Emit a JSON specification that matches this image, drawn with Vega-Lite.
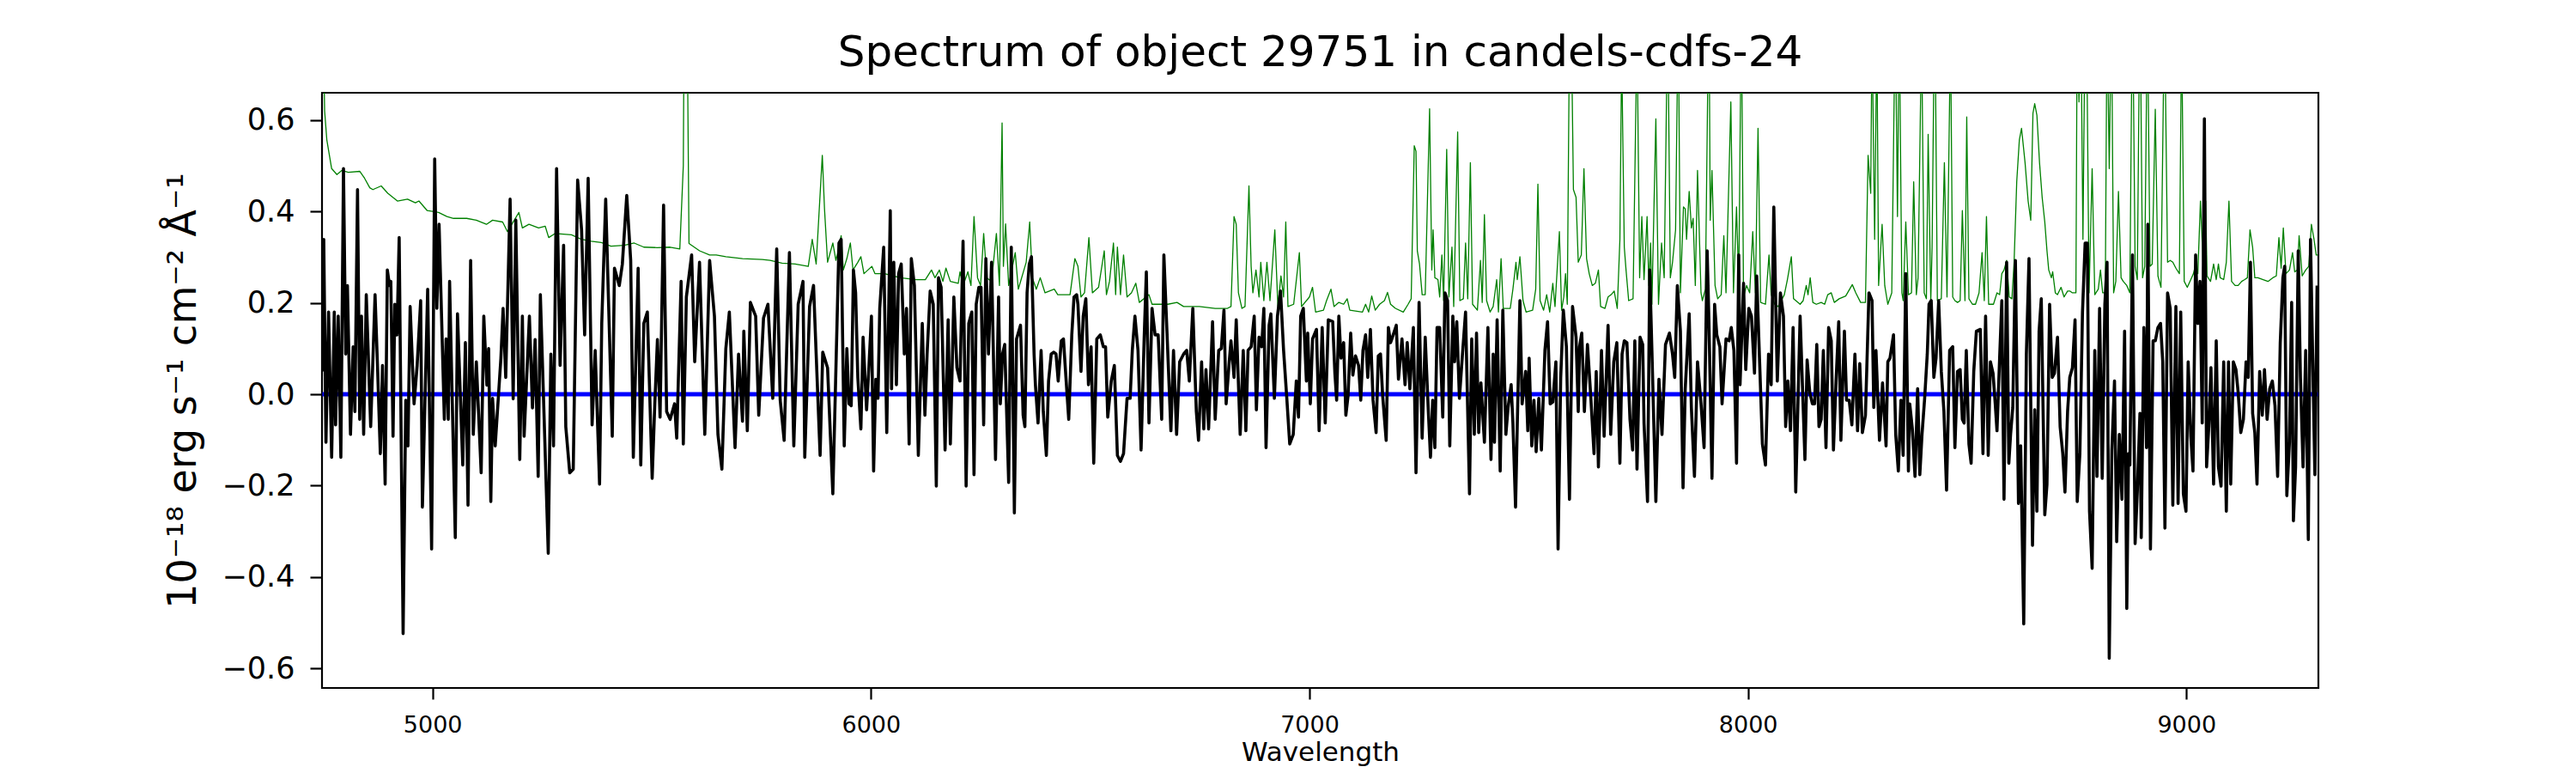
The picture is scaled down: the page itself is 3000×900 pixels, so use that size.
{
"$schema":"https://vega.github.io/schema/vega-lite/v6.json",
"width":2325,"height":693,
"autosize":{"type":"none"},
"padding":{"left":375,"top":108,"right":300,"bottom":99},
"background":"white",
"title":{"text":"Spectrum of object 29751 in candels-cdfs-24","font":"DejaVu Sans","fontSize":50,"fontWeight":"normal","color":"black","anchor":"middle","frame":"group","offset":-19,"baseline":"alphabetic"},
"datasets":{
"noise":[
{"wl":4749,"value":0.9},{"wl":4754,"value":0.62},{"wl":4759,"value":0.557},{"wl":4770,"value":0.494},{"wl":4782,"value":0.481},{"wl":4793,"value":0.49},{"wl":4808,"value":0.486},{"wl":4834,"value":0.488},{"wl":4845,"value":0.473},{"wl":4857,"value":0.452},{"wl":4864,"value":0.448},{"wl":4883,"value":0.456},{"wl":4898,"value":0.44},{"wl":4920,"value":0.423},{"wl":4943,"value":0.427},{"wl":4961,"value":0.419},{"wl":4969,"value":0.423},{"wl":4988,"value":0.402},{"wl":5014,"value":0.398},{"wl":5033,"value":0.389},{"wl":5048,"value":0.385},{"wl":5078,"value":0.385},{"wl":5100,"value":0.381},{"wl":5123,"value":0.372},{"wl":5137,"value":0.381},{"wl":5160,"value":0.377},{"wl":5171,"value":0.356},{"wl":5197,"value":0.398},{"wl":5205,"value":0.364},{"wl":5220,"value":0.372},{"wl":5242,"value":0.364},{"wl":5257,"value":0.368},{"wl":5265,"value":0.343},{"wl":5280,"value":0.352},{"wl":5317,"value":0.349},{"wl":5340,"value":0.339},{"wl":5362,"value":0.335},{"wl":5385,"value":0.332},{"wl":5407,"value":0.324},{"wl":5437,"value":0.326},{"wl":5460,"value":0.331},{"wl":5482,"value":0.322},{"wl":5512,"value":0.321},{"wl":5542,"value":0.322},{"wl":5564,"value":0.318},{"wl":5572,"value":0.5},{"wl":5576,"value":1.2},{"wl":5581,"value":0.8},{"wl":5585,"value":0.33},{"wl":5609,"value":0.314},{"wl":5632,"value":0.305},{"wl":5647,"value":0.305},{"wl":5669,"value":0.301},{"wl":5707,"value":0.297},{"wl":5752,"value":0.295},{"wl":5770,"value":0.293},{"wl":5797,"value":0.287},{"wl":5827,"value":0.285},{"wl":5857,"value":0.28},{"wl":5866,"value":0.339},{"wl":5875,"value":0.285},{"wl":5889,"value":0.523},{"wl":5894,"value":0.406},{"wl":5901,"value":0.289},{"wl":5913,"value":0.331},{"wl":5920,"value":0.293},
{"wl":5923,"value":0.305},{"wl":5932,"value":0.347},{"wl":5937,"value":0.272},{"wl":5945,"value":0.297},{"wl":5953,"value":0.331},{"wl":5959,"value":0.272},{"wl":5970,"value":0.289},{"wl":5977,"value":0.301},{"wl":5984,"value":0.264},{"wl":6002,"value":0.28},{"wl":6009,"value":0.264},{"wl":6031,"value":0.264},{"wl":6067,"value":0.255},{"wl":6103,"value":0.251},{"wl":6124,"value":0.251},{"wl":6138,"value":0.272},{"wl":6146,"value":0.255},{"wl":6156,"value":0.272},{"wl":6164,"value":0.247},{"wl":6171,"value":0.276},{"wl":6181,"value":0.247},{"wl":6199,"value":0.243},{"wl":6203,"value":0.268},{"wl":6210,"value":0.238},{"wl":6221,"value":0.268},{"wl":6228,"value":0.238},{"wl":6235,"value":0.389},{"wl":6243,"value":0.255},{"wl":6250,"value":0.238},{"wl":6257,"value":0.352},{"wl":6264,"value":0.255},{"wl":6275,"value":0.247},{"wl":6286,"value":0.352},{"wl":6293,"value":0.238},{"wl":6299,"value":0.594},{"wl":6302,"value":0.28},{"wl":6307,"value":0.373},{"wl":6314,"value":0.238},{"wl":6329,"value":0.31},{"wl":6336,"value":0.23},{"wl":6354,"value":0.289},{"wl":6362,"value":0.377},{"wl":6368,"value":0.255},{"wl":6377,"value":0.23},{"wl":6386,"value":0.255},{"wl":6397,"value":0.222},{"wl":6418,"value":0.23},{"wl":6426,"value":0.218},{"wl":6454,"value":0.218},{"wl":6465,"value":0.297},{"wl":6472,"value":0.28},{"wl":6479,"value":0.213},{"wl":6487,"value":0.222},{"wl":6497,"value":0.343},{"wl":6505,"value":0.222},{"wl":6519,"value":0.234},{"wl":6532,"value":0.314},{"wl":6537,"value":0.218},{"wl":6544,"value":0.247},{"wl":6553,"value":0.331},{"wl":6558,"value":0.218},{"wl":6562,"value":0.322},{"wl":6569,"value":0.218},{"wl":6576,"value":0.305},{"wl":6584,"value":0.213},{"wl":6594,"value":0.222},{"wl":6604,"value":0.243},{"wl":6612,"value":0.201},{"wl":6634,"value":0.218},{"wl":6641,"value":0.197},{"wl":6677,"value":0.197},{"wl":6698,"value":0.201},{"wl":6713,"value":0.192},{"wl":6749,"value":0.192},{"wl":6785,"value":0.188},{"wl":6813,"value":0.188},{"wl":6821,"value":0.192},{"wl":6828,"value":0.389},{"wl":6833,"value":0.372},{"wl":6838,"value":0.222},{"wl":6846,"value":0.188},{"wl":6853,"value":0.192},{"wl":6862,"value":0.456},{"wl":6867,"value":0.28},{"wl":6871,"value":0.222},{"wl":6878,"value":0.272},{"wl":6885,"value":0.213},{"wl":6889,"value":0.289},{"wl":6896,"value":0.205},{"wl":6903,"value":0.289},{"wl":6910,"value":0.205},{"wl":6921,"value":0.36},{"wl":6928,"value":0.192},{"wl":6935,"value":0.259},{"wl":6941,"value":0.213},{"wl":6946,"value":0.377},{"wl":6951,"value":0.192},{"wl":6964,"value":0.197},{"wl":6977,"value":0.31},{"wl":6982,"value":0.192},{"wl":7000,"value":0.213},{"wl":7007,"value":0.234},{"wl":7014,"value":0.18},{"wl":7032,"value":0.184},{"wl":7039,"value":0.205},{"wl":7049,"value":0.23},
{"wl":7056,"value":0.192},{"wl":7067,"value":0.201},{"wl":7078,"value":0.197},{"wl":7086,"value":0.209},{"wl":7092,"value":0.184},{"wl":7121,"value":0.18},{"wl":7128,"value":0.197},{"wl":7135,"value":0.18},{"wl":7142,"value":0.215},{"wl":7150,"value":0.184},{"wl":7160,"value":0.197},{"wl":7171,"value":0.205},{"wl":7178,"value":0.223},{"wl":7185,"value":0.197},{"wl":7196,"value":0.188},{"wl":7214,"value":0.18},{"wl":7225,"value":0.197},{"wl":7232,"value":0.209},{"wl":7239,"value":0.544},{"wl":7243,"value":0.532},{"wl":7246,"value":0.314},{"wl":7251,"value":0.285},{"wl":7257,"value":0.218},{"wl":7264,"value":0.218},{"wl":7274,"value":0.625},{"wl":7279,"value":0.272},{"wl":7282,"value":0.36},{"wl":7286,"value":0.255},{"wl":7293,"value":0.251},{"wl":7297,"value":0.213},{"wl":7302,"value":0.305},{"wl":7306,"value":0.205},{"wl":7313,"value":0.536},{"wl":7318,"value":0.213},{"wl":7325,"value":0.322},{"wl":7329,"value":0.192},{"wl":7338,"value":0.574},{"wl":7343,"value":0.205},{"wl":7351,"value":0.209},{"wl":7356,"value":0.331},{"wl":7361,"value":0.209},{"wl":7367,"value":0.507},{"wl":7372,"value":0.197},{"wl":7383,"value":0.184},{"wl":7390,"value":0.293},{"wl":7394,"value":0.201},{"wl":7399,"value":0.393},{"wl":7404,"value":0.205},{"wl":7412,"value":0.18},{"wl":7419,"value":0.192},{"wl":7427,"value":0.251},{"wl":7431,"value":0.18},{"wl":7437,"value":0.297},{"wl":7442,"value":0.188},{"wl":7458,"value":0.188},{"wl":7464,"value":0.23},{"wl":7471,"value":0.289},{"wl":7474,"value":0.251},{"wl":7480,"value":0.301},{"wl":7487,"value":0.205},{"wl":7494,"value":0.18},{"wl":7509,"value":0.184},{"wl":7516,"value":0.23},{"wl":7521,"value":0.46},{"wl":7526,"value":0.205},{"wl":7534,"value":0.184},{"wl":7541,"value":0.218},{"wl":7548,"value":0.18},{"wl":7555,"value":0.243},{"wl":7560,"value":0.192},{"wl":7570,"value":0.356},{"wl":7575,"value":0.184},{"wl":7580,"value":0.213},{"wl":7584,"value":0.264},{"wl":7588,"value":0.197},{"wl":7593,"value":0.8},{"wl":7598,"value":0.75},{"wl":7602,"value":0.448},{"wl":7608,"value":0.431},{"wl":7613,"value":0.289},{"wl":7620,"value":0.305},{"wl":7626,"value":0.494},{"wl":7632,"value":0.297},{"wl":7638,"value":0.264},{"wl":7645,"value":0.238},{"wl":7652,"value":0.243},{"wl":7659,"value":0.272},{"wl":7664,"value":0.192},{"wl":7674,"value":0.188},{"wl":7681,"value":0.213},{"wl":7688,"value":0.218},{"wl":7695,"value":0.226},{"wl":7702,"value":0.188},{"wl":7708,"value":0.339},{"wl":7712,"value":0.75},{"wl":7718,"value":0.322},{"wl":7722,"value":0.272},{"wl":7728,"value":0.205},{"wl":7738,"value":0.209},{"wl":7747,"value":0.8},{"wl":7753,"value":0.255},{"wl":7758,"value":0.389},{"wl":7763,"value":0.251},{"wl":7770,"value":0.389},{"wl":7774,"value":0.238},{"wl":7778,"value":0.331},{"wl":7781,"value":0.197},{"wl":7790,"value":0.603},{"wl":7796,"value":0.197},{"wl":7803,"value":0.331},{"wl":7809,"value":0.255},{"wl":7817,"value":0.85},{"wl":7823,"value":0.255},{"wl":7828,"value":0.289},{"wl":7835,"value":0.36},{"wl":7841,"value":0.85},{"wl":7846,"value":0.222},{"wl":7853,"value":0.41},{"wl":7857,"value":0.406},{"wl":7860,"value":0.339},{"wl":7866,"value":0.444},{"wl":7871,"value":0.364},{"wl":7875,"value":0.385},{"wl":7880,"value":0.238},{"wl":7885,"value":0.49},{"wl":7893,"value":0.222},{"wl":7896,"value":0.205},{"wl":7903,"value":0.23},{"wl":7911,"value":0.9},{"wl":7914,"value":0.381},{"wl":7918,"value":0.49},{"wl":7925,"value":0.238},{"wl":7931,"value":0.209},{"wl":7939,"value":0.218},{"wl":7945,"value":0.347},{"wl":7950,"value":0.222},{"wl":7961,"value":0.64},{"wl":7967,"value":0.222},{"wl":7974,"value":0.41},{"wl":7979,"value":0.238},{"wl":7985,"value":0.85},{"wl":7990,"value":0.213},{"wl":7997,"value":0.238},{"wl":8004,"value":0.222},{"wl":8011,"value":0.356},{"wl":8017,"value":0.222},{"wl":8023,"value":0.582},{"wl":8029,"value":0.201},{"wl":8040,"value":0.197},{"wl":8048,"value":0.305},{"wl":8053,"value":0.218},{"wl":8061,"value":0.197},{"wl":8069,"value":0.192},{"wl":8083,"value":0.218},{"wl":8090,"value":0.251},{"wl":8099,"value":0.301},{"wl":8104,"value":0.209},{"wl":8119,"value":0.197},
{"wl":8126,"value":0.205},{"wl":8133,"value":0.238},{"wl":8137,"value":0.218},{"wl":8142,"value":0.255},{"wl":8148,"value":0.201},{"wl":8156,"value":0.197},{"wl":8167,"value":0.201},{"wl":8175,"value":0.197},{"wl":8182,"value":0.218},{"wl":8190,"value":0.222},{"wl":8197,"value":0.201},{"wl":8208,"value":0.209},{"wl":8223,"value":0.215},{"wl":8238,"value":0.24},{"wl":8246,"value":0.222},{"wl":8257,"value":0.201},{"wl":8268,"value":0.201},{"wl":8274,"value":0.523},{"wl":8280,"value":0.44},{"wl":8283,"value":0.8},{"wl":8289,"value":0.339},{"wl":8294,"value":0.8},{"wl":8298,"value":0.238},{"wl":8306,"value":0.372},{"wl":8312,"value":0.238},{"wl":8319,"value":0.197},{"wl":8328,"value":0.222},{"wl":8336,"value":0.85},{"wl":8341,"value":0.389},{"wl":8345,"value":0.85},{"wl":8351,"value":0.222},{"wl":8354,"value":0.205},{"wl":8360,"value":0.377},{"wl":8366,"value":0.218},{"wl":8373,"value":0.222},{"wl":8378,"value":0.465},{"wl":8384,"value":0.218},{"wl":8388,"value":0.255},{"wl":8396,"value":0.8},{"wl":8402,"value":0.222},{"wl":8407,"value":0.209},{"wl":8411,"value":0.569},{"wl":8417,"value":0.205},{"wl":8420,"value":0.322},{"wl":8426,"value":0.9},{"wl":8432,"value":0.205},{"wl":8441,"value":0.209},{"wl":8448,"value":0.507},{"wl":8454,"value":0.213},{"wl":8462,"value":0.8},{"wl":8467,"value":0.213},{"wl":8472,"value":0.205},{"wl":8478,"value":0.201},{"wl":8484,"value":0.205},{"wl":8489,"value":0.402},{"wl":8495,"value":0.205},{"wl":8499,"value":0.607},{"wl":8504,"value":0.209},{"wl":8512,"value":0.197},{"wl":8519,"value":0.197},{"wl":8527,"value":0.222},{"wl":8534,"value":0.31},{"wl":8539,"value":0.205},{"wl":8544,"value":0.389},{"wl":8549,"value":0.197},{"wl":8560,"value":0.197},{"wl":8568,"value":0.222},{"wl":8574,"value":0.218},{"wl":8579,"value":0.264},{"wl":8584,"value":0.272},{"wl":8590,"value":0.293},{"wl":8596,"value":0.213},{"wl":8602,"value":0.209},{"wl":8607,"value":0.289},{"wl":8613,"value":0.465},{"wl":8619,"value":0.557},{"wl":8624,"value":0.582},{"wl":8632,"value":0.507},{"wl":8639,"value":0.423},{"wl":8645,"value":0.381},{"wl":8650,"value":0.615},{"wl":8654,"value":0.636},{"wl":8659,"value":0.611},{"wl":8665,"value":0.507},{"wl":8671,"value":0.431},{"wl":8677,"value":0.377},{"wl":8682,"value":0.314},{"wl":8686,"value":0.272},{"wl":8692,"value":0.255},{"wl":8695,"value":0.268},{"wl":8701,"value":0.222},{"wl":8706,"value":0.218},{"wl":8714,"value":0.234},{"wl":8721,"value":0.213},{"wl":8729,"value":0.226},{"wl":8734,"value":0.226},{"wl":8740,"value":0.222},{"wl":8748,"value":0.222},{"wl":8751,"value":0.85},{"wl":8755,"value":0.64},{"wl":8759,"value":0.85},{"wl":8764,"value":0.339},{"wl":8769,"value":0.85},{"wl":8772,"value":0.85},{"wl":8778,"value":0.222},{"wl":8785,"value":0.494},{"wl":8791,"value":0.218},{"wl":8799,"value":0.23},{"wl":8804,"value":0.272},{"wl":8809,"value":0.222},{"wl":8815,"value":0.222},{"wl":8819,"value":0.85},{"wl":8824,"value":0.494},{"wl":8829,"value":0.85},{"wl":8834,"value":0.222},{"wl":8839,"value":0.247},{"wl":8845,"value":0.444},{"wl":8851,"value":0.255},{"wl":8856,"value":0.247},{"wl":8864,"value":0.238},{"wl":8871,"value":0.222},{"wl":8877,"value":0.9},{"wl":8883,"value":0.28},{"wl":8888,"value":0.251},{"wl":8894,"value":0.9},{"wl":8900,"value":0.255},{"wl":8905,"value":0.28},{"wl":8911,"value":0.85},{"wl":8917,"value":0.28},{"wl":8922,"value":0.285},{"wl":8929,"value":0.624},{"wl":8935,"value":0.259},{"wl":8942,"value":0.234},{"wl":8950,"value":0.85},{"wl":8957,"value":0.289},{"wl":8963,"value":0.293},{"wl":8969,"value":0.289},{"wl":8976,"value":0.276},{"wl":8984,"value":0.264},{"wl":8989,"value":0.8},{"wl":8995,"value":0.247},{"wl":9002,"value":0.234},{"wl":9010,"value":0.251},{"wl":9016,"value":0.264},{"wl":9021,"value":0.285},{"wl":9026,"value":0.264},{"wl":9032,"value":0.423},{"wl":9038,"value":0.285},{"wl":9044,"value":0.423},{"wl":9047,"value":0.259},{"wl":9055,"value":0.247},{"wl":9062,"value":0.285},{"wl":9068,"value":0.251},{"wl":9073,"value":0.285},{"wl":9077,"value":0.255},{"wl":9085,"value":0.251},{"wl":9091,"value":0.289},{"wl":9097,"value":0.423},{"wl":9103,"value":0.247},{"wl":9111,"value":0.238},{"wl":9118,"value":0.238},{"wl":9126,"value":0.247},{"wl":9133,"value":0.251},{"wl":9139,"value":0.255},{"wl":9145,"value":0.36},{"wl":9151,"value":0.322},{"wl":9156,"value":0.255},{"wl":9163,"value":0.255},{"wl":9175,"value":0.251},{"wl":9186,"value":0.247},{"wl":9197,"value":0.255},{"wl":9205,"value":0.259},{"wl":9211,"value":0.343},{"wl":9216,"value":0.276},{"wl":9221,"value":0.364},{"wl":9227,"value":0.264},{"wl":9235,"value":0.272},{"wl":9242,"value":0.31},{"wl":9247,"value":0.268},{"wl":9253,"value":0.272},{"wl":9257,"value":0.347},{"wl":9264,"value":0.259},{"wl":9272,"value":0.272},{"wl":9279,"value":0.28},{"wl":9285,"value":0.372},{"wl":9291,"value":0.339},{"wl":9296,"value":0.305},{"wl":9300,"value":0.305}
],
"zero":[{"wl":4749,"value":0},{"wl":9300,"value":0}],
"flux":[
{"wl":4749,"value":0.05},{"wl":4752,"value":0.339},{"wl":4757,"value":-0.105},{"wl":4763,"value":0.18},{"wl":4770,"value":-0.138},{"wl":4776,"value":0.18},{"wl":4779,"value":-0.067},{"wl":4785,"value":0.171},{"wl":4791,"value":-0.138},{"wl":4797,"value":0.494},{"wl":4802,"value":0.088},{"wl":4806,"value":0.238},{"wl":4813,"value":-0.088},{"wl":4819,"value":0.104},{"wl":4823,"value":-0.038},{"wl":4829,"value":0.448},{"wl":4834,"value":-0.055},{"wl":4838,"value":0.171},{"wl":4843,"value":-0.088},{"wl":4849,"value":0.218},{"wl":4859,"value":-0.071},{"wl":4869,"value":0.218},{"wl":4875,"value":0.05},{"wl":4881,"value":-0.13},{"wl":4886,"value":0.063},{"wl":4892,"value":-0.197},{"wl":4897,"value":0.272},{"wl":4902,"value":0.238},{"wl":4905,"value":0.247},{"wl":4910,"value":-0.092},{"wl":4914,"value":0.197},{"wl":4919,"value":0.13},{"wl":4924,"value":0.343},{"wl":4933,"value":-0.524},{"wl":4939,"value":-0.013},{"wl":4944,"value":-0.113},{"wl":4949,"value":0.192},{"wl":4958,"value":-0.021},{"wl":4965,"value":0.063},{"wl":4973,"value":0.205},{"wl":4977,"value":-0.247},{"wl":4989,"value":0.23},{"wl":4998,"value":-0.339},{"wl":5005,"value":0.515},{"wl":5010,"value":0.188},{"wl":5015,"value":0.372},{"wl":5027,"value":-0.055},{"wl":5031,"value":0.121},{"wl":5036,"value":-0.055},{"wl":5039,"value":0.247},{"wl":5052,"value":-0.314},{"wl":5057,"value":0.176},{"wl":5069,"value":-0.155},{"wl":5075,"value":0.113},{"wl":5081,"value":-0.243},{"wl":5087,"value":0.293},{"wl":5093,"value":-0.088},{"wl":5100,"value":0.071},{"wl":5111,"value":-0.172},{"wl":5117,"value":0.171},{"wl":5124,"value":0.02},{"wl":5128,"value":0.1},{"wl":5133,"value":-0.235},{"wl":5137,"value":-0.009},{"wl":5143,"value":-0.113},{"wl":5156,"value":0.079},{"wl":5161,"value":0.188},{"wl":5167,"value":0.037},{"wl":5177,"value":0.427},{"wl":5184,"value":-0.01},{"wl":5190,"value":0.381},{"wl":5199,"value":-0.143},{"wl":5205,"value":0.171},{"wl":5209,"value":-0.092},{"wl":5221,"value":0.171},{"wl":5228,"value":-0.03},{"wl":5234,"value":0.12},{"wl":5241,"value":-0.18},{"wl":5246,"value":0.218},{"wl":5264,"value":-0.348},{"wl":5270,"value":0.088},{"wl":5276,"value":-0.113},{"wl":5283,"value":0.494},{"wl":5291,"value":0.063},{"wl":5299,"value":0.326},{"wl":5304,"value":-0.071},{"wl":5313,"value":-0.172},{"wl":5321,"value":-0.164},{"wl":5331,"value":0.469},{"wl":5340,"value":0.36},{"wl":5347,"value":0.13},{"wl":5355,"value":0.473},{"wl":5364,"value":-0.067},{"wl":5371,"value":0.096},{"wl":5381,"value":-0.197},{"wl":5386,"value":0.155},{"wl":5395,"value":0.427},{"wl":5410,"value":-0.092},{"wl":5415,"value":0.276},{"wl":5426,"value":0.238},{"wl":5433,"value":0.285},{"wl":5443,"value":0.435},{"wl":5452,"value":0.293},{"wl":5458,"value":-0.138},{"wl":5469,"value":0.276},{"wl":5475,"value":-0.155},{"wl":5482,"value":0.155},{"wl":5490,"value":0.18},{"wl":5501,"value":-0.184},{"wl":5507,"value":-0.021},{"wl":5513,"value":0.12},{"wl":5519,"value":-0.05},{"wl":5527,"value":0.414},{"wl":5534,"value":-0.038},{"wl":5542,"value":-0.055},{"wl":5552,"value":-0.021},{"wl":5557,"value":-0.096},{"wl":5567,"value":0.247},{"wl":5572,"value":-0.109},{"wl":5579,"value":0.213},{"wl":5591,"value":0.305},{"wl":5598,"value":0.071},{"wl":5609,"value":0.289},{"wl":5621,"value":-0.088},{"wl":5632,"value":0.293},{"wl":5643,"value":0.171},{"wl":5651,"value":-0.088},{"wl":5660,"value":-0.164},{"wl":5669,"value":0.1},{"wl":5677,"value":0.18},{"wl":5690,"value":-0.117},{"wl":5698,"value":0.088},{"wl":5707,"value":-0.059},{"wl":5710,"value":0.138},{"wl":5718,"value":-0.08},{"wl":5725,"value":0.201},{"wl":5737,"value":0.171},{"wl":5744,"value":-0.046},{"wl":5755,"value":0.167},{"wl":5765,"value":0.197},{"wl":5776,"value":-0.009},{"wl":5785,"value":0.318},{"wl":5793,"value":-0.013},{"wl":5802,"value":-0.101},{"wl":5814,"value":0.31},{"wl":5824,"value":-0.113},{"wl":5834,"value":0.197},{"wl":5845,"value":0.247},{"wl":5849,"value":-0.138},{"wl":5860,"value":0.192},{"wl":5869,"value":0.238},{"wl":5875,"value":0.088},{"wl":5884,"value":-0.134},{"wl":5890,"value":0.092},{"wl":5901,"value":0.058},{"wl":5913,"value":-0.218},{"wl":5920,"value":0.054},
{"wl":5927,"value":0.331},{"wl":5932,"value":0.339},{"wl":5939,"value":-0.113},{"wl":5945,"value":0.1},{"wl":5950,"value":-0.021},{"wl":5955,"value":-0.025},{"wl":5960,"value":0.272},{"wl":5965,"value":0.222},{"wl":5970,"value":0.037},{"wl":5977,"value":-0.076},{"wl":5982,"value":0.125},{"wl":5990,"value":-0.034},{"wl":5995,"value":0.054},{"wl":6001,"value":0.171},{"wl":6006,"value":-0.168},{"wl":6011,"value":0.033},{"wl":6016,"value":-0.009},{"wl":6020,"value":0.188},{"wl":6029,"value":0.322},{"wl":6036,"value":-0.084},{"wl":6044,"value":0.402},{"wl":6047,"value":0.012},{"wl":6052,"value":0.289},{"wl":6058,"value":0.021},{"wl":6063,"value":0.264},{"wl":6069,"value":0.285},{"wl":6076,"value":0.088},{"wl":6081,"value":0.188},{"wl":6087,"value":-0.109},{"wl":6092,"value":0.297},{"wl":6099,"value":0.238},{"wl":6108,"value":-0.134},{"wl":6117,"value":0.155},{"wl":6123,"value":-0.046},{"wl":6128,"value":0.088},{"wl":6135,"value":0.226},{"wl":6142,"value":0.197},{"wl":6149,"value":-0.201},{"wl":6154,"value":0.255},{"wl":6160,"value":0.234},{"wl":6169,"value":-0.122},{"wl":6176,"value":0.163},{"wl":6181,"value":-0.109},{"wl":6189,"value":0.213},{"wl":6196,"value":0.058},{"wl":6203,"value":0.029},{"wl":6210,"value":0.335},{"wl":6217,"value":-0.201},{"wl":6223,"value":0.155},{"wl":6230,"value":0.18},{"wl":6235,"value":-0.176},{"wl":6240,"value":0.197},{"wl":6246,"value":0.234},{"wl":6251,"value":0.234},{"wl":6257,"value":-0.067},{"wl":6262,"value":0.297},{"wl":6268,"value":0.088},{"wl":6275,"value":0.289},{"wl":6284,"value":-0.143},{"wl":6291,"value":0.213},{"wl":6295,"value":-0.021},{"wl":6300,"value":0.088},{"wl":6305,"value":0.109},{"wl":6314,"value":-0.193},{"wl":6320,"value":0.322},{"wl":6327,"value":-0.26},{"wl":6332,"value":0.121},{"wl":6341,"value":0.151},{"wl":6347,"value":-0.046},{"wl":6351,"value":-0.071},{"wl":6356,"value":0.222},{"wl":6361,"value":0.285},{"wl":6366,"value":0.301},{"wl":6372,"value":0.088},{"wl":6375,"value":0.021},{"wl":6381,"value":-0.063},{"wl":6388,"value":0.096},{"wl":6393,"value":-0.038},{"wl":6400,"value":-0.134},{"wl":6405,"value":0.029},{"wl":6411,"value":0.088},{"wl":6417,"value":0.092},{"wl":6422,"value":0.088},{"wl":6427,"value":0.029},{"wl":6434,"value":0.117},{"wl":6439,"value":0.121},{"wl":6444,"value":0.046},{"wl":6451,"value":-0.055},{"wl":6458,"value":0.13},{"wl":6463,"value":0.213},{"wl":6469,"value":0.218},{"wl":6472,"value":0.197},{"wl":6479,"value":0.05},{"wl":6484,"value":0.171},{"wl":6490,"value":0.209},{"wl":6496,"value":0.021},{"wl":6502,"value":0.104},{"wl":6508,"value":-0.151},{"wl":6515,"value":0.121},{"wl":6523,"value":0.13},{"wl":6530,"value":0.104},{"wl":6535,"value":0.104},{"wl":6540,"value":-0.05},{"wl":6548,"value":0.029},{"wl":6555,"value":0.063},{"wl":6562,"value":-0.134},{"wl":6569,"value":-0.147},{"wl":6576,"value":-0.13},{"wl":6584,"value":-0.009},{"wl":6591,"value":-0.009},{"wl":6596,"value":0.096},{"wl":6602,"value":0.171},{"wl":6609,"value":0.096},{"wl":6616,"value":-0.122},{"wl":6623,"value":0.121},{"wl":6628,"value":0.268},{"wl":6634,"value":-0.063},{"wl":6641,"value":0.188},{"wl":6648,"value":0.13},{"wl":6655,"value":0.13},{"wl":6663,"value":-0.055},{"wl":6668,"value":0.305},{"wl":6675,"value":0.138},{"wl":6684,"value":-0.08},{"wl":6690,"value":0.096},{"wl":6697,"value":-0.088},{"wl":6704,"value":0.071},{"wl":6713,"value":0.088},{"wl":6720,"value":0.096},{"wl":6726,"value":0.029},{"wl":6734,"value":0.188},{"wl":6742,"value":-0.038},{"wl":6747,"value":-0.101},{"wl":6754,"value":0.071},{"wl":6759,"value":-0.076},{"wl":6764,"value":0.054},{"wl":6770,"value":-0.076},{"wl":6779,"value":0.159},{"wl":6785,"value":-0.055},{"wl":6793,"value":0.096},{"wl":6799,"value":0.1},{"wl":6805,"value":0.184},{"wl":6810,"value":-0.021},{"wl":6817,"value":0.071},{"wl":6821,"value":0.117},{"wl":6828,"value":0.037},{"wl":6833,"value":0.163},{"wl":6842,"value":-0.088},{"wl":6849,"value":0.096},{"wl":6855,"value":-0.08},{"wl":6860,"value":0.096},{"wl":6867,"value":0.104},{"wl":6874,"value":0.171},{"wl":6879,"value":-0.034},{"wl":6885,"value":0.125},{"wl":6891,"value":0.104},{"wl":6896,"value":0.188},{"wl":6901,"value":-0.117},{"wl":6908,"value":0.151},{"wl":6912,"value":0.176},{"wl":6920,"value":-0.009},{"wl":6927,"value":0.171},{"wl":6934,"value":0.226},{"wl":6941,"value":0.096},{"wl":6948,"value":-0.004},{"wl":6955,"value":-0.109},{"wl":6963,"value":-0.088},{"wl":6970,"value":0.029},{"wl":6975,"value":-0.05},{"wl":6980,"value":0.171},{"wl":6986,"value":0.188},{"wl":6993,"value":0.029},{"wl":6996,"value":0.134},{"wl":7002,"value":-0.021},{"wl":7007,"value":0.121},{"wl":7016,"value":0.142},{"wl":7022,"value":-0.08},{"wl":7029,"value":0.146},{"wl":7036,"value":-0.063},{"wl":7043,"value":0.163},
{"wl":7053,"value":0.159},{"wl":7058,"value":0.046},{"wl":7062,"value":-0.013},{"wl":7067,"value":0.171},{"wl":7072,"value":0.079},{"wl":7078,"value":0.113},{"wl":7083,"value":-0.046},{"wl":7088,"value":-0.004},{"wl":7094,"value":0.134},{"wl":7099,"value":0.042},{"wl":7105,"value":0.084},{"wl":7112,"value":0.063},{"wl":7117,"value":-0.013},{"wl":7122,"value":0.096},{"wl":7128,"value":0.13},{"wl":7133,"value":0.037},{"wl":7139,"value":0.142},{"wl":7145,"value":-0.013},{"wl":7152,"value":-0.084},{"wl":7157,"value":0.084},{"wl":7162,"value":0.088},{"wl":7167,"value":-0.004},{"wl":7175,"value":-0.101},{"wl":7180,"value":0.146},{"wl":7185,"value":0.113},{"wl":7191,"value":0.13},{"wl":7198,"value":0.151},{"wl":7203,"value":0.033},{"wl":7211,"value":0.121},{"wl":7218,"value":0.021},{"wl":7223,"value":0.113},{"wl":7229,"value":0.012},{"wl":7237,"value":0.146},{"wl":7243,"value":-0.172},{"wl":7250,"value":0.201},{"wl":7257,"value":-0.096},{"wl":7264,"value":0.125},{"wl":7270,"value":-0.013},{"wl":7276,"value":-0.138},{"wl":7281,"value":-0.013},{"wl":7286,"value":-0.117},{"wl":7291,"value":0.146},{"wl":7297,"value":0.146},{"wl":7304,"value":-0.05},{"wl":7309,"value":0.222},{"wl":7315,"value":0.205},{"wl":7320,"value":-0.113},{"wl":7327,"value":0.171},{"wl":7331,"value":0.071},{"wl":7336,"value":0.159},{"wl":7342,"value":-0.009},{"wl":7349,"value":0.088},{"wl":7356,"value":0.18},{"wl":7365,"value":-0.218},{"wl":7370,"value":0.121},{"wl":7376,"value":-0.088},{"wl":7381,"value":0.134},{"wl":7386,"value":-0.084},{"wl":7391,"value":0.025},{"wl":7399,"value":-0.105},{"wl":7407,"value":0.146},{"wl":7414,"value":-0.143},{"wl":7419,"value":0.088},{"wl":7422,"value":-0.105},{"wl":7428,"value":0.163},{"wl":7435,"value":-0.168},{"wl":7441,"value":0.184},{"wl":7448,"value":-0.088},{"wl":7453,"value":-0.029},{"wl":7460,"value":0.021},{"wl":7464,"value":-0.063},{"wl":7470,"value":-0.247},{"wl":7480,"value":0.205},{"wl":7485,"value":-0.021},{"wl":7493,"value":0.05},{"wl":7498,"value":-0.08},{"wl":7501,"value":0.079},{"wl":7507,"value":-0.113},{"wl":7512,"value":-0.013},{"wl":7517,"value":-0.126},{"wl":7523,"value":-0.009},{"wl":7529,"value":-0.122},{"wl":7537,"value":0.096},{"wl":7543,"value":0.159},{"wl":7549,"value":-0.021},{"wl":7555,"value":-0.017},{"wl":7562,"value":0.071},{"wl":7567,"value":-0.339},{"wl":7573,"value":0.037},{"wl":7579,"value":0.184},{"wl":7586,"value":0.104},{"wl":7593,"value":-0.23},{"wl":7600,"value":0.192},{"wl":7608,"value":0.125},{"wl":7613,"value":-0.038},{"wl":7616,"value":0.104},{"wl":7621,"value":0.134},{"wl":7627,"value":-0.038},{"wl":7634,"value":0.109},{"wl":7641,"value":0.004},{"wl":7649,"value":-0.13},{"wl":7654,"value":0.05},{"wl":7659,"value":-0.159},{"wl":7666,"value":0.096},{"wl":7672,"value":-0.092},{"wl":7681,"value":0.151},{"wl":7687,"value":-0.088},{"wl":7694,"value":0.071},{"wl":7701,"value":0.113},{"wl":7708,"value":-0.151},{"wl":7713,"value":0.088},{"wl":7718,"value":0.117},{"wl":7724,"value":0.113},{"wl":7731,"value":-0.055},{"wl":7737,"value":-0.122},{"wl":7742,"value":0.117},{"wl":7747,"value":-0.164},{"wl":7754,"value":0.125},{"wl":7760,"value":0.109},{"wl":7763,"value":-0.063},{"wl":7771,"value":-0.235},{"wl":7776,"value":0.272},{"wl":7781,"value":0.096},{"wl":7790,"value":-0.235},{"wl":7797,"value":0.033},{"wl":7804,"value":-0.088},{"wl":7812,"value":0.109},{"wl":7821,"value":0.134},{"wl":7828,"value":0.088},{"wl":7833,"value":0.037},{"wl":7839,"value":0.238},{"wl":7846,"value":0.138},{"wl":7852,"value":-0.205},{"wl":7857,"value":0.012},{"wl":7866,"value":0.176},{"wl":7871,"value":-0.029},{"wl":7878,"value":-0.18},{"wl":7885,"value":0.071},{"wl":7893,"value":-0.021},{"wl":7900,"value":-0.117},{"wl":7907,"value":0.314},{"wl":7911,"value":0.163},{"wl":7918,"value":-0.184},{"wl":7924,"value":0.197},{"wl":7929,"value":0.13},{"wl":7936,"value":0.104},{"wl":7941,"value":-0.021},{"wl":7950,"value":0.121},{"wl":7957,"value":0.117},{"wl":7962,"value":0.146},{"wl":7968,"value":0.096},{"wl":7974,"value":-0.151},{"wl":7979,"value":0.305},{"wl":7982,"value":0.021},{"wl":7990,"value":0.243},{"wl":7995,"value":0.054},{"wl":8002,"value":0.188},{"wl":8008,"value":0.171},{"wl":8015,"value":0.046},{"wl":8020,"value":0.259},{"wl":8025,"value":0.117},{"wl":8033,"value":-0.109},{"wl":8040,"value":-0.155},{"wl":8047,"value":0.088},{"wl":8053,"value":0.021},{"wl":8059,"value":0.41},{"wl":8067,"value":0.029},{"wl":8074,"value":0.222},{"wl":8081,"value":0.171},{"wl":8086,"value":-0.071},{"wl":8091,"value":0.029},{"wl":8097,"value":-0.08},{"wl":8103,"value":0.146},{"wl":8109,"value":-0.214},{"wl":8119,"value":0.171},
{"wl":8130,"value":-0.143},{"wl":8135,"value":0.075},{"wl":8141,"value":0.004},{"wl":8147,"value":-0.021},{"wl":8152,"value":-0.021},{"wl":8157,"value":0.109},{"wl":8162,"value":-0.071},{"wl":8167,"value":-0.055},{"wl":8172,"value":0.096},{"wl":8178,"value":-0.117},{"wl":8184,"value":0.146},{"wl":8190,"value":0.117},{"wl":8195,"value":-0.122},{"wl":8201,"value":0.029},{"wl":8207,"value":0.159},{"wl":8212,"value":-0.101},{"wl":8220,"value":0.138},{"wl":8225,"value":-0.013},{"wl":8231,"value":-0.013},{"wl":8237,"value":-0.067},{"wl":8244,"value":0.088},{"wl":8250,"value":-0.08},{"wl":8255,"value":0.067},{"wl":8261,"value":-0.084},{"wl":8268,"value":-0.046},{"wl":8276,"value":0.222},{"wl":8283,"value":0.205},{"wl":8287,"value":-0.029},{"wl":8292,"value":0.096},{"wl":8300,"value":-0.101},{"wl":8307,"value":0.025},{"wl":8315,"value":-0.113},{"wl":8319,"value":0.071},{"wl":8324,"value":0.079},{"wl":8332,"value":0.13},{"wl":8337,"value":-0.088},{"wl":8343,"value":-0.168},{"wl":8349,"value":-0.013},{"wl":8354,"value":-0.134},{"wl":8360,"value":0.264},{"wl":8366,"value":-0.168},{"wl":8369,"value":-0.021},{"wl":8375,"value":-0.076},{"wl":8381,"value":-0.18},{"wl":8387,"value":0.012},{"wl":8392,"value":-0.176},{"wl":8397,"value":-0.088},{"wl":8403,"value":-0.009},{"wl":8409,"value":0.088},{"wl":8413,"value":0.197},{"wl":8418,"value":0.205},{"wl":8424,"value":0.037},{"wl":8429,"value":0.079},{"wl":8435,"value":0.205},{"wl":8441,"value":0.05},{"wl":8447,"value":-0.038},{"wl":8453,"value":-0.21},{"wl":8460,"value":0.096},{"wl":8467,"value":0.104},{"wl":8472,"value":-0.117},{"wl":8478,"value":0.05},{"wl":8484,"value":0.054},{"wl":8489,"value":-0.055},{"wl":8493,"value":-0.063},{"wl":8498,"value":0.096},{"wl":8504,"value":-0.109},{"wl":8509,"value":-0.151},{"wl":8515,"value":0.05},{"wl":8521,"value":0.138},{"wl":8530,"value":0.142},{"wl":8536,"value":-0.13},{"wl":8542,"value":0.171},{"wl":8548,"value":-0.134},{"wl":8553,"value":0.071},{"wl":8559,"value":0.046},{"wl":8564,"value":-0.021},{"wl":8568,"value":-0.08},{"wl":8574,"value":0.079},{"wl":8579,"value":0.205},{"wl":8584,"value":-0.23},{"wl":8590,"value":0.289},{"wl":8595,"value":-0.151},{"wl":8599,"value":-0.088},{"wl":8604,"value":-0.029},{"wl":8610,"value":0.293},{"wl":8617,"value":-0.239},{"wl":8622,"value":-0.113},{"wl":8629,"value":-0.503},{"wl":8635,"value":0.088},{"wl":8641,"value":0.297},{"wl":8649,"value":-0.331},{"wl":8654,"value":-0.034},{"wl":8659,"value":-0.256},{"wl":8664,"value":0.138},{"wl":8669,"value":0.209},{"wl":8677,"value":-0.264},{"wl":8682,"value":-0.197},{"wl":8688,"value":0.197},{"wl":8694,"value":0.037},{"wl":8699,"value":0.046},{"wl":8706,"value":0.125},{"wl":8712,"value":-0.071},{"wl":8718,"value":-0.13},{"wl":8723,"value":-0.214},{"wl":8729,"value":-0.038},{"wl":8734,"value":0.037},{"wl":8740,"value":0.058},{"wl":8746,"value":0.163},{"wl":8751,"value":-0.235},{"wl":8757,"value":-0.13},{"wl":8763,"value":0.18},{"wl":8769,"value":0.331},{"wl":8774,"value":0.331},{"wl":8779,"value":-0.256},{"wl":8785,"value":-0.381},{"wl":8791,"value":0.096},{"wl":8796,"value":-0.18},{"wl":8802,"value":0.188},{"wl":8808,"value":-0.184},{"wl":8814,"value":0.197},{"wl":8819,"value":0.289},{"wl":8824,"value":-0.578},{"wl":8830,"value":-0.122},{"wl":8836,"value":0.029},{"wl":8841,"value":-0.323},{"wl":8847,"value":-0.088},{"wl":8853,"value":-0.23},{"wl":8859,"value":0.138},{"wl":8864,"value":-0.469},{"wl":8868,"value":-0.13},{"wl":8871,"value":-0.155},{"wl":8877,"value":0.305},{"wl":8883,"value":-0.327},{"wl":8888,"value":-0.214},{"wl":8894,"value":-0.042},{"wl":8897,"value":-0.314},{"wl":8903,"value":0.146},{"wl":8909,"value":-0.117},{"wl":8912,"value":0.372},{"wl":8918,"value":-0.339},{"wl":8924,"value":0.117},{"wl":8929,"value":0.117},{"wl":8935,"value":0.146},{"wl":8941,"value":0.155},{"wl":8946,"value":0.071},{"wl":8951,"value":-0.293},{"wl":8957,"value":0.222},{"wl":8963,"value":0.188},{"wl":8969,"value":-0.243},{"wl":8976,"value":0.192},{"wl":8981,"value":-0.239},{"wl":8987,"value":0.18},{"wl":8993,"value":-0.218},{"wl":8999,"value":-0.256},{"wl":9004,"value":0.071},{"wl":9010,"value":-0.092},{"wl":9015,"value":-0.168},{"wl":9021,"value":0.305},{"wl":9026,"value":0.155},{"wl":9031,"value":0.247},{"wl":9036,"value":-0.063},{"wl":9041,"value":0.603},{"wl":9046,"value":-0.159},{"wl":9051,"value":-0.071},{"wl":9056,"value":0.058},{"wl":9062,"value":-0.197},{"wl":9068,"value":0.117},{"wl":9073,"value":-0.159},{"wl":9079,"value":-0.201},{"wl":9085,"value":0.071},{"wl":9091,"value":-0.256},{"wl":9096,"value":0.071},{"wl":9101,"value":-0.197},{"wl":9107,"value":0.071},{"wl":9113,"value":0.054},{"wl":9118,"value":0.004},{"wl":9124,"value":-0.084},{"wl":9130,"value":-0.055},{"wl":9136,"value":0.071},{"wl":9141,"value":0.037},{"wl":9146,"value":0.289},{"wl":9151,"value":-0.042},{"wl":9156,"value":-0.084},{"wl":9161,"value":-0.197},{"wl":9167,"value":0.05},{"wl":9173,"value":-0.046},{"wl":9178,"value":0.054},{"wl":9184,"value":-0.055},{"wl":9190,"value":0.012},{"wl":9196,"value":0.029},{"wl":9202,"value":-0.025},{"wl":9208,"value":-0.18},{"wl":9214,"value":0.113},{"wl":9220,"value":0.255},{"wl":9224,"value":0.28},{"wl":9229,"value":-0.222},{"wl":9235,"value":-0.105},{"wl":9240,"value":0.201},{"wl":9244,"value":-0.277},{"wl":9249,"value":-0.159},{"wl":9255,"value":0.314},{"wl":9260,"value":0.037},{"wl":9266,"value":-0.159},{"wl":9272,"value":0.096},{"wl":9278,"value":-0.318},{"wl":9283,"value":0.339},{"wl":9288,"value":0.079},{"wl":9293,"value":-0.176},{"wl":9298,"value":0.238}
]
},
"encoding":{
"x":{"field":"wl","type":"quantitative","scale":{"domain":[4748,9301],"nice":false,"zero":false},
"axis":{"values":[5000,6000,7000,8000,9000],"format":"d","title":"Wavelength","labelFontSize":27,"titleFontSize":31,"tickSize":13,"labelPadding":17,"titlePadding":4,"labelFlush":false}},
"y":{"field":"value","type":"quantitative","scale":{"domain":[-0.643,0.66],"nice":false,"zero":false},
"axis":{"values":[-0.6,-0.4,-0.2,0,0.2,0.4,0.6],"format":".1f","title":"10⁻¹⁸ erg s⁻¹ cm⁻² Å⁻¹","labelFontSize":35,"titleFontSize":46,"tickSize":14,"labelPadding":18,"titlePadding":21}}
},
"layer":[
{"data":{"name":"noise"},"mark":{"type":"line","color":"#008000","strokeWidth":1.3,"clip":true,"strokeJoin":"round"}},
{"data":{"name":"zero"},"mark":{"type":"line","color":"#0000ff","strokeWidth":4.8,"clip":true}},
{"data":{"name":"flux"},"mark":{"type":"line","color":"#000000","strokeWidth":3.6,"clip":true,"strokeJoin":"round"}}
],
"config":{
"font":"DejaVu Sans",
"view":{"stroke":"#000000","strokeWidth":2.2},
"axis":{"grid":false,"domain":false,"tickColor":"#000000","tickWidth":2.2,"labelColor":"#000000","titleColor":"#000000","labelFont":"DejaVu Sans","titleFont":"DejaVu Sans","titleFontWeight":"normal","labelOverlap":false}
}
}
